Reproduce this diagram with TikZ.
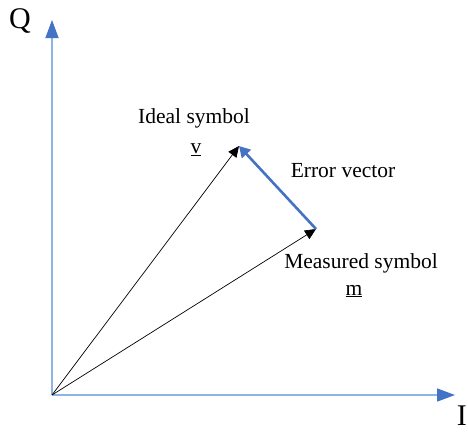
\documentclass[tikz,border=0pt]{standalone}
\usepackage{fontspec}
\setmainfont{Liberation Serif}
\usetikzlibrary{arrows.meta}
\definecolor{axisline}{HTML}{8EB4E3}
\definecolor{axistip}{HTML}{4472C4}
\begin{document}
\begin{tikzpicture}[x=1pt,y=-1pt,
  axis/.style={draw=axisline,line width=1.5pt,-{Triangle[length=18pt,width=13pt,fill=axistip,color=axistip]}},
  vec/.style={draw=black,line width=0.7pt,-{Triangle[length=11pt,width=10pt]}},
  errvec/.style={draw=axistip,line width=2.6pt,-{Triangle[length=11pt,width=12pt]}},
  lbl/.style={font=\fontsize{21.5}{24}\selectfont,inner sep=0pt},
  big/.style={font=\fontsize{30}{32}\selectfont,inner sep=0pt}]
\useasboundingbox (0,0) rectangle (468,431);
\clip (0,0) rectangle (468,431);
\coordinate (O) at (52,395);
\coordinate (Qend) at (52,20);
\coordinate (Iend) at (455,395);
\coordinate (V) at (239,146);
\coordinate (M) at (316,229);
\draw[axis] (O) -- (Qend);
\draw[axis] (O) -- (Iend);
\draw[vec] (O) -- (V);
\draw[vec] (O) -- (M);
\draw[errvec] (M) -- (V);
\node[big] (q) at (20,21) {Q};
\node[big,anchor=north east] (i) at (467,406) {I};
\node[lbl] (ideal) at (194,118) {Ideal symbol};
\node[lbl] (vsym) at (196,150) {\underline{v}};
\node[lbl] (err) at (343,171) {Error vector};
\node[lbl] (meas) at (361,263) {Measured symbol};
\node[lbl] (msym) at (354,291) {\underline{m}};
\end{tikzpicture}
\end{document}
